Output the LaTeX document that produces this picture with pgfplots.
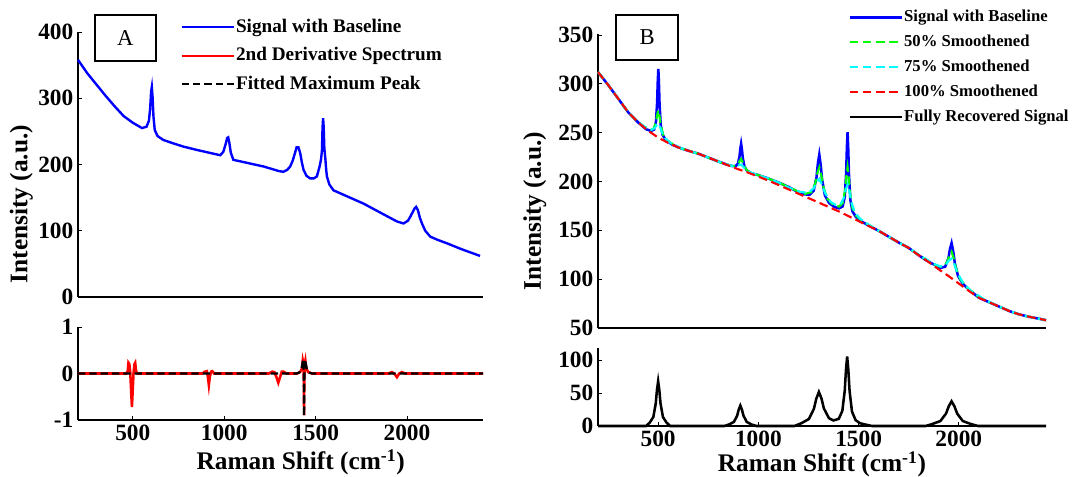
\documentclass[border=0pt]{standalone}
\usepackage{fontspec}
\setmainfont{Liberation Serif}
\usepackage{pgfplots}
\pgfplotsset{compat=1.18}
\definecolor{cy}{RGB}{0,255,255}
\definecolor{gr}{RGB}{0,255,0}

\pgfplotsset{
  mat/.style={
    scale only axis,
    axis lines=left,
    axis line style={-, line width=0.8pt},
    tick align=inside,
    major tick length=3pt,
    tick style={line width=0.6pt, black},
    ticklabel style={font=\fontsize{17.5}{17.5}\selectfont\bfseries},
    /pgf/number format/assume math mode=true,
    /pgf/number format/1000 sep={},
    clip=false,
    xmin=200,
  },
  % rotated label: yshift moves it to the left
  ylab/.style={every axis y label/.style={at={(rel axis cs:0,#1)}, rotate=90, anchor=south,
    inner sep=0pt, font=\fontsize{19}{19}\selectfont\bfseries}},
  xlab/.style={every axis x label/.style={at={(rel axis cs:#1,0)}, anchor=base,
    inner sep=0pt, font=\fontsize{19}{19}\selectfont\bfseries}},
  legimg/.style={legend image code/.code={\draw[##1] (0pt,0pt) -- (39pt,0pt);}},
}
\tikzset{
  panel/.style={draw, line width=1.4pt, anchor=north west, inner sep=0pt,
    font=\fontsize{17}{17}\selectfont},
}

\begin{document}
\begin{tikzpicture}[x=1pt,y=1pt]
\path[use as bounding box] (0,0) rectangle (804,357.75);

% ---------- A, top
\begin{axis}[mat, at={(58.5pt,135pt)}, anchor=south west,
  width=303.75pt, height=198.75pt,
  xmax=2416, ymin=0, ymax=400, xtick=\empty, ytick={0,100,200,300,400},
  ylab=0.351, ylabel={Intensity (a.u.)},
  every axis y label/.append style={yshift=33.75pt},
  legimg, legend cell align=left,
  legend style={at={(0.252,1)}, anchor=north west, yshift=12pt, draw=none, fill=none,
    inner sep=0pt, row sep=4.9pt, font=\fontsize{14.4}{14.4}\selectfont\bfseries,
    nodes={inner sep=1pt, text height=11pt, text depth=3.5pt},
    /tikz/every even column/.append style={column sep=5.5pt}}]
\addplot[blue, line width=1.8pt] coordinates {
(200,358) (250,338) (300,321) (350,304) (400,288) (450,273) (500,263) (550,255)
(575,257) (588,266) (595,285) (600,310) (604,317) (608,302) (613,272) (620,252)
(635,243) (667,237) (720,232) (777,227) (850,222) (930,217) (978,214) (995,219)
(1008,231) (1016,240) (1022,241) (1028,233) (1036,218) (1050,207) (1100,204)
(1215,197) (1300,190) (1324,189) (1345,192) (1361,197) (1375,206) (1388,218)
(1396,226) (1406,226) (1416,217) (1425,203) (1434,192) (1450,183) (1470,179)
(1490,179) (1507,182) (1521,196) (1530,208) (1535,222) (1538,255) (1541,270)
(1544,258) (1548,224) (1553,210) (1558,192) (1562,182) (1575,170) (1598,161)
(1680,151) (1762,141) (1850,128) (1945,114) (1981,111) (2005,115) (2020,122)
(2040,133) (2050,136) (2060,131) (2070,120) (2082,111) (2100,100) (2128,91)
(2170,86) (2219,81) (2300,72) (2400,62)};
\addlegendentry{Signal with Baseline}
\addlegendimage{red, line width=1.8pt}
\addlegendentry{2nd Derivative Spectrum}
\addlegendimage{black, line width=1.6pt, dash pattern=on 5.5pt off 3pt}
\addlegendentry{Fitted Maximum Peak}
\node[panel, minimum width=45.75pt, minimum height=34.5pt] at (rel axis cs:0.0395,1) [yshift=13.5pt] {A};
\end{axis}

% ---------- A, bottom
\begin{axis}[mat, at={(58.5pt,42.75pt)}, anchor=south west,
  width=303.75pt, height=69.75pt,
  xmax=2416, ymin=-1, ymax=1, xtick={500,1000,1500,2000}, ytick={-1,0,1},
  xlab=0.55, xlabel={Raman Shift (cm\textsuperscript{-1})},
  every axis x label/.append style={yshift=-37.5pt}]
\addplot[red, line width=1.9pt] coordinates {
(200,0) (465,0) (472,0.05) (476,0.23) (481,0.2) (486,0.02) (491,-0.4) (495,-0.72)
(499,-0.4) (504,0.02) (509,0.2) (513,0.23) (518,0.05) (525,0) (880,0) (895,0.04)
(905,0.05) (911,-0.08) (916,-0.25) (921,-0.08) (928,0.04) (935,0.05) (945,0)
(1245,0) (1262,0.04) (1275,0.03) (1288,-0.1) (1296,-0.2) (1304,-0.1) (1315,0.04)
(1325,0.04) (1340,0) (1400,0) (1415,0.03) (1425,0.1) (1430,0.28) (1434,0.2)
(1436,-0.3) (1437,-0.9) (1438,-0.3) (1440,0.2) (1444,0.28) (1449,0.1) (1460,0.03)
(1480,0) (1900,0) (1917,0.03) (1930,0) (1945,-0.08) (1958,0) (1972,0.03) (1990,0)
(2416,0)};
\addplot[black, line width=1.7pt, dash pattern=on 5.5pt off 3pt] coordinates {
(200,0) (1395,0) (1410,0.02) (1422,0.08) (1428,0.2) (1431,0.3) (1434,0.2)
(1436,-0.3) (1437,-0.92) (1438,-0.3) (1440,0.2) (1443,0.3) (1447,0.2) (1453,0.08)
(1465,0.02) (1480,0) (2416,0)};
\end{axis}

% ---------- B, top
\begin{axis}[mat, at={(448.5pt,111.75pt)}, anchor=south west,
  width=336pt, height=220.5pt,
  xmax=2435, ymin=50, ymax=351, xtick=\empty, ytick={50,100,...,350},
  ylab=0.398, ylabel={Intensity (a.u.)},
  every axis y label/.append style={yshift=38.6pt},
  legimg, legend cell align=left,
  legend style={at={(0.558,1)}, anchor=north west, yshift=19.8pt, draw=none, fill=none,
    inner sep=0pt, row sep=4.1pt, font=\fontsize{12.5}{12.5}\selectfont\bfseries,
    nodes={inner sep=1pt, text height=9.5pt, text depth=3pt},
    /tikz/every even column/.append style={column sep=4.5pt}}]
\addplot[blue, line width=1.9pt] coordinates {
(200,312) (250,299) (300,285) (350,271) (400,260.5) (440,253.5) (465,251.8)
(480,253.1) (489,260.6) (495,280.9) (498,301.5) (501,315.2) (504,300.8) (507,279.4)
(513,257.7) (522,247.9) (537,242.8) (570,237.7) (600,235) (650,231.5) (700,228.5)
(750,224.5) (800,220.5) (840,217.5) (866,215.9) (886,215.6) (898,218.1) (906,225.7)
(910,233.5) (914,238.6) (918,232.9) (922,224.5) (930,215.7) (942,211.4) (962,208.7)
(1000,206.5) (1050,203) (1100,199) (1150,194.5) (1190,190) (1220,187.1) (1255,186.3)
(1276,190.7) (1290,204.2) (1297,218.4) (1304,227.6) (1311,217.1) (1318,201.8)
(1332,185.8) (1353,177.9) (1380,173.9) (1403,172.5) (1420.5,174.5) (1431,184)
(1438,208.8) (1441.5,233.9) (1445,250.5) (1448.5,233.2) (1452,207.3) (1459,181)
(1469.5,169.4) (1487,163.5) (1520,158.4) (1560,153.8) (1600,149.5) (1650,143.5)
(1700,137.5) (1750,132) (1800,124.5) (1840,119) (1868,115.8) (1908,111.6)
(1932,112.7) (1948,121.3) (1956,131) (1964,137) (1972,128.6) (1980,116.6)
(1996,103.3) (2020,95.2) (2060,87.6) (2100,81) (2150,76.5) (2200,72) (2250,67.5)
(2300,64) (2350,61.5) (2400,59.5) (2435,58)};
\addlegendentry{Signal with Baseline}
\addplot[gr, line width=1.6pt, dash pattern=on 6.5pt off 3.4pt] coordinates {
(200,312) (250,299) (300,285) (350,271) (400,260.5) (429,256.4) (459,252.8)
(477,253.8) (489,260.5) (495,268.1) (501,272.9) (507,266.6) (513,257.6) (525,247.9)
(543,242.4) (573,238.2) (600,235) (650,231.5) (700,228.5) (750,224.5) (800,220.5)
(830,218) (865,216) (886,215.9) (900,218.3) (907,221.2) (914,223) (921,220.1)
(928,216.2) (942,211.7) (963,208.7) (1000,206.5) (1050,203) (1100,199) (1150,194.5)
(1184,191) (1234,187.3) (1264,189.1) (1284,198.2) (1294,208.1) (1304,214.5)
(1314,206.4) (1324,194.8) (1344,182.4) (1374,175.9) (1403,174.3) (1421,178.2)
(1433,191.6) (1439,205.7) (1445,214.8) (1451,204.4) (1457,189) (1469,173.1)
(1487,165.1) (1517,159.6) (1560,154.3) (1600,149.5) (1650,143.5) (1700,137.5)
(1750,132) (1800,124.5) (1832,120.8) (1887,114) (1920,112.6) (1942,117.6)
(1953,124.2) (1964,128) (1975,120.9) (1986,111.1) (2008,99.7) (2041,91.4)
(2096,82.3) (2150,76.5) (2200,72) (2250,67.5) (2300,64) (2350,61.5) (2400,59.5)
(2435,58)};
\addlegendentry{50\% Smoothened}
\addplot[cy, line width=1.6pt, dash pattern=on 6.5pt off 3.4pt] coordinates {
(200,312) (250,299) (300,285) (350,271) (393,262.4) (438,255.1) (465,252.8)
(483,254.7) (492,257.8) (501,259.5) (510,255.6) (519,250.2) (537,243.8) (564,239.3)
(609,234.8) (650,231.5) (700,228.5) (750,224.5) (800,220.5) (844,217.3) (874,215.7)
(894,215.9) (904,216.8) (914,217.3) (924,215.3) (934,212.9) (954,209.8) (984,207.5)
(1050,203) (1100,199) (1136,195) (1206,189.5) (1248,188.3) (1276,193) (1290,199)
(1304,202.6) (1318,196.7) (1332,188.4) (1360,179.2) (1386,175.9) (1409,176.4)
(1427,183.5) (1436,191.8) (1445,197) (1454,189.9) (1463,179.6) (1481,168.4)
(1508,161.6) (1553,155.5) (1600,149.5) (1650,143.5) (1700,137.5) (1750,132)
(1796,125.6) (1866,116.6) (1908,112.9) (1936,114.9) (1950,119) (1964,121)
(1978,114.9) (1992,106.7) (2020,96.5) (2062,87.8) (2132,78.7) (2200,72) (2250,67.5)
(2300,64) (2350,61.5) (2400,59.5) (2435,58)};
\addlegendentry{75\% Smoothened}
\addplot[red, line width=1.6pt, dash pattern=on 6.5pt off 3.4pt] coordinates {
(200,312) (250,299) (300,285) (350,271) (400,260.5) (450,252) (500,245) (550,239.5)
(600,235) (650,231.5) (700,228.5) (750,224.5) (800,220.5) (850,216.5) (900,212.5)
(950,209) (1000,205) (1050,201) (1100,196.5) (1150,192) (1200,187.5) (1250,183)
(1300,178.5) (1350,174) (1400,169.5) (1450,164.5) (1500,159.5) (1550,154.5)
(1600,149.5) (1650,143.5) (1700,137.5) (1750,132) (1800,124.5) (1850,117.5)
(1900,110) (1950,103) (2000,95.5) (2050,88) (2100,81) (2150,76.5) (2200,72)
(2250,67.5) (2300,64) (2350,61.5) (2400,59.5) (2435,58)};
\addlegendentry{100\% Smoothened}
\addlegendimage{black, line width=1.8pt}
\addlegendentry{Fully Recovered Signal}
\node[panel, minimum width=46.3pt, minimum height=34pt] at (rel axis cs:0.0386,1) [yshift=15pt] {B};
\end{axis}

% ---------- B, bottom
\begin{axis}[mat, at={(448.5pt,38.25pt)}, anchor=south west,
  width=336pt, height=58.3pt,
  xmax=2435, ymin=0, ymax=118, xtick={500,1000,1500,2000}, ytick={0,50,100},
  xlab=0.5, xlabel={Raman Shift (cm\textsuperscript{-1})},
  every axis x label/.append style={yshift=-34.5pt}]
\addplot[black, line width=1.9pt] coordinates {
(200,0) (440,0) (458,5.1) (476,13.6) (488,34) (494,54.4) (500,68) (506,54.4)
(512,34) (524,13.6) (542,5.1) (560,0) (830,0) (854,2.3) (878,6.2) (894,15.5)
(902,24.8) (910,31) (918,24.8) (926,15.5) (942,6.2) (966,2.3) (990,0) (1180,0)
(1214,4.1) (1252,10.6) (1277,26) (1289,41.4) (1302,51.7) (1315,41.6) (1327,26.6)
(1352,11.9) (1374,8.4) (1401,10.8) (1419,23) (1431,53.8) (1437,84.9) (1443,105.6)
(1449,84.7) (1455,53.4) (1467,22) (1485,8.9) (1507,4.2) (1537,2) (1567,0) (1834,0)
(1866,2.8) (1908,7.5) (1936,18.75) (1950,30) (1964,37.5) (1978,30) (1992,18.75)
(2020,7.5) (2062,2.8) (2096,0) (2435,0)};
\end{axis}
\end{tikzpicture}
\end{document}
